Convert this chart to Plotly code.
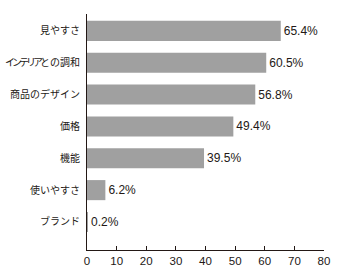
import plotly.graph_objects as go

categories = ["見やすさ", "インテリアとの調和", "商品のデザイン", "価格", "機能", "使いやすさ", "ブランド"]
values = [65.4, 60.5, 56.8, 49.4, 39.5, 6.2, 0.2]
labels = ["65.4%", "60.5%", "56.8%", "49.4%", "39.5%", "6.2%", "0.2%"]
x_ticks = [0, 10, 20, 30, 40, 50, 60, 70, 80]

jp_font = "Noto Sans CJK JP, sans-serif"
num_font = "Liberation Sans, Arial, sans-serif"
ink = "#231815"

# Condense the katakana of the long label so it fits like the reference
tick_text = [c.replace("インテリア", '<span style="letter-spacing:-3px">インテリア</span>')
             for c in categories]

fig = go.Figure(go.Bar(
    x=values, y=categories, orientation="h",
    marker=dict(color="#a0a0a0", line=dict(width=0)),
    width=0.63,
    text=labels, textposition="outside", cliponaxis=False,
    textfont=dict(size=12, color=ink, family=num_font),
))

fig.update_layout(
    width=349, height=268,
    margin=dict(l=87, r=25, t=14, b=18),
    paper_bgcolor="white", plot_bgcolor="white",
    showlegend=False,
    font=dict(family=jp_font, size=10, color=ink),
    xaxis=dict(range=[0, 80], tickvals=x_ticks, ticks="inside", ticklen=4,
               tickcolor=ink, showline=True, linecolor=ink, linewidth=1,
               showgrid=False, zeroline=False, automargin=False,
               tickfont=dict(size=11.5, color=ink, family=num_font),
               fixedrange=True),
    yaxis=dict(categoryorder="array", categoryarray=categories,
               tickmode="array", tickvals=categories, ticktext=tick_text,
               range=[6.88, -0.53], showline=True, linecolor=ink, linewidth=1,
               ticks="", showgrid=False, zeroline=False, automargin=False,
               tickfont=dict(size=10, color=ink, family=jp_font), ticklabelstandoff=4),
)

fig.write_html("out.html")
